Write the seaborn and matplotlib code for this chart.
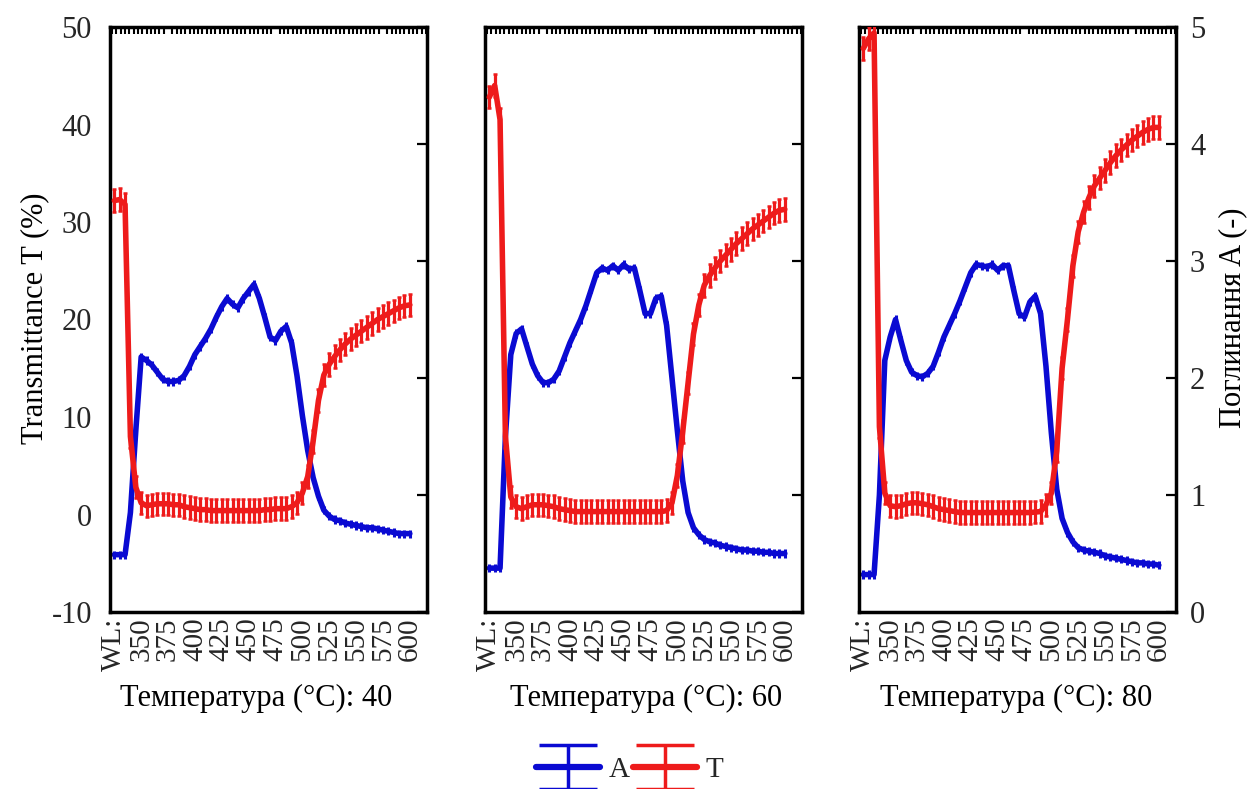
import numpy as np
import matplotlib
matplotlib.use("Agg")
import matplotlib.pyplot as plt
from matplotlib.ticker import FixedLocator
from matplotlib.legend_handler import HandlerErrorbar
import seaborn as sns

# ---------------- data ----------------
wavelength = [325, 330, 335, 340, 345, 350, 355, 360, 365, 370, 375, 380, 385, 390, 395,
              400, 405, 410, 415, 420, 425, 430, 435, 440, 445, 450, 455, 460, 465, 470,
              475, 480, 485, 490, 495, 500, 505, 510, 515, 520, 525, 530, 535, 540, 545,
              550, 555, 560, 565, 570, 575, 580, 585, 590, 595, 600]
tick_positions = [325, 350, 375, 400, 425, 450, 475, 500, 525, 550, 575, 600]
tick_labels = ["WL:", "350", "375", "400", "425", "450", "475", "500", "525", "550", "575", "600"]
temperatures = [40, 60, 80]

absorb_40 = [0.49, 0.49, 0.49, 0.85, 1.55,
             2.18, 2.15, 2.11, 2.05, 1.99, 1.97, 1.97, 1.98, 2.02, 2.10,
             2.20, 2.27, 2.34, 2.42, 2.52, 2.61, 2.68, 2.63, 2.60, 2.68,
             2.74, 2.80, 2.68, 2.52, 2.35, 2.32, 2.40, 2.44, 2.30, 2.02,
             1.68, 1.38, 1.15, 0.99, 0.87, 0.82, 0.79, 0.78, 0.76, 0.75,
             0.74, 0.73, 0.72, 0.72, 0.71, 0.70, 0.69, 0.68, 0.67, 0.67, 0.67]
trans_40 = [32.2, 32.3, 31.8, 8.0, 2.8,
            1.2, 0.9, 1.0, 1.1, 1.1, 1.1, 1.0, 1.0, 0.8, 0.7,
            0.6, 0.5, 0.5, 0.4, 0.4, 0.4, 0.4, 0.4, 0.4, 0.4,
            0.4, 0.4, 0.4, 0.5, 0.5, 0.6, 0.6, 0.6, 0.8, 1.2,
            2.2, 3.9, 7.5, 11.7, 14.3, 15.4, 16.2, 16.9, 17.5, 18.0,
            18.4, 18.8, 19.2, 19.6, 20.0, 20.3, 20.6, 20.9, 21.2, 21.4, 21.5]

absorb_60 = [0.375, 0.375, 0.375, 1.5, 2.2,
             2.38, 2.42, 2.27, 2.12, 2.02, 1.96, 1.96, 1.99, 2.06, 2.18,
             2.30, 2.40, 2.50, 2.62, 2.76, 2.90, 2.94, 2.92, 2.96, 2.92,
             2.97, 2.93, 2.94, 2.75, 2.55, 2.55, 2.68, 2.70, 2.45, 2.00,
             1.55, 1.12, 0.85, 0.72, 0.66, 0.62, 0.60, 0.59, 0.57, 0.56,
             0.55, 0.54, 0.53, 0.53, 0.52, 0.52, 0.51, 0.51, 0.50, 0.50, 0.50]
trans_60 = [42.8, 44.0, 40.5, 8.0, 1.8,
            0.8, 0.6, 0.8, 1.0, 1.0, 1.0, 0.9, 0.8, 0.6, 0.5,
            0.4, 0.3, 0.3, 0.3, 0.3, 0.3, 0.3, 0.3, 0.3, 0.3,
            0.3, 0.3, 0.3, 0.3, 0.3, 0.3, 0.3, 0.3, 0.4, 1.2,
            4.0, 8.5, 13.5, 18.5, 21.5, 23.5, 24.5, 25.3, 26.0, 26.6,
            27.2, 27.8, 28.3, 28.8, 29.3, 29.7, 30.1, 30.5, 30.9, 31.2, 31.3]

absorb_80 = [0.32, 0.32, 0.32, 1.0, 2.15,
             2.35, 2.50, 2.32, 2.15, 2.05, 2.02, 2.01, 2.04, 2.10, 2.22,
             2.35, 2.45, 2.55, 2.66, 2.78, 2.90, 2.97, 2.96, 2.95, 2.97,
             2.92, 2.96, 2.96, 2.75, 2.55, 2.52, 2.65, 2.70, 2.55, 2.10,
             1.53, 1.05, 0.80, 0.68, 0.60, 0.55, 0.53, 0.52, 0.51, 0.50,
             0.48, 0.47, 0.46, 0.45, 0.44, 0.43, 0.42, 0.42, 0.41, 0.41, 0.40]
trans_80 = [47.8, 48.8, 49.4, 9.0, 2.2,
            0.9, 0.8, 0.9, 1.1, 1.2, 1.2, 1.1, 1.0, 0.8, 0.6,
            0.5, 0.4, 0.3, 0.2, 0.2, 0.2, 0.2, 0.2, 0.2, 0.2,
            0.2, 0.2, 0.2, 0.2, 0.2, 0.2, 0.2, 0.25, 0.3, 1.0,
            2.2, 6.5, 15.0, 20.0, 25.5, 29.0, 31.0, 32.5, 33.7, 34.5,
            35.3, 36.1, 36.8, 37.4, 37.9, 38.4, 38.8, 39.2, 39.5, 39.7, 39.7]

absorbance = [absorb_40, absorb_60, absorb_80]
transmittance = [trans_40, trans_60, trans_80]
T_ERR = 1.15
A_ERR = 0.035

# ---------------- style ----------------
sns.set_theme(style="white")
plt.rcParams['font.family'] = ['Liberation Serif', 'DejaVu Serif']
plt.rcParams['axes.unicode_minus'] = False

BLUE = '#0a0ad2'
RED = '#ee1b1b'
W, H = 1259, 789
lefts = [110, 485, 859]
title_centers = [256, 646, 1016]
PW = 317
TOP, BOT = 27, 612
FS_XTICK = 21
FS_YTICK = 22

fig = plt.figure(figsize=(W / 100, H / 100), dpi=100)
wl = np.array(wavelength)

for i, (temp, A, T) in enumerate(zip(temperatures, absorbance, transmittance)):
    ax = fig.add_axes([lefts[i] / W, 1 - BOT / H, PW / W, (BOT - TOP) / H])
    axT = ax.twinx()

    # absorbance on primary axis (right scale)
    sns.lineplot(x=wl, y=np.array(A), ax=ax, color=BLUE, linewidth=4, legend=False)
    ax.errorbar(wl, A, yerr=A_ERR, fmt='none', ecolor=BLUE, elinewidth=2.2, capsize=0)
    # transmittance on twin axis (left scale), drawn on top
    sns.lineplot(x=wl, y=np.array(T), ax=axT, color=RED, linewidth=4, legend=False)
    axT.errorbar(wl, T, yerr=T_ERR, fmt='none', ecolor=RED, elinewidth=2.3, capsize=1.5, capthick=1.8)

    ax.set_xlim(321, 616)
    ax.set_ylim(0, 5)
    axT.set_ylim(-10, 50)

    ax.yaxis.tick_right()
    axT.yaxis.tick_left()
    ax.set_yticks([0, 1, 2, 3, 4, 5])
    axT.set_yticks([-10, 0, 10, 20, 30, 40, 50])
    ax.tick_params(axis='y', which='major', direction='in', length=7, width=1.6,
                   color='black', labelsize=FS_YTICK, pad=10, left=False, right=True,
                   labelleft=False, labelright=(i == 2))
    axT.tick_params(axis='y', which='major', length=0, labelsize=FS_YTICK, pad=13,
                    left=True, right=False, labelleft=(i == 0), labelright=False)

    ax.set_xticks(tick_positions)
    ax.set_xticklabels(tick_labels, rotation=90)
    ax.xaxis.set_minor_locator(FixedLocator(np.arange(323, 616, 4)))
    ax.tick_params(axis='x', which='major', length=0, labelsize=FS_XTICK, pad=4,
                   bottom=True, top=False)
    ax.tick_params(axis='x', which='minor', direction='in', length=5, width=1.5,
                   color='black', bottom=False, top=True)

    ax.set_xlabel('')
    ax.set_ylabel('')
    axT.set_ylabel('')
    for s in ax.spines.values():
        s.set_visible(True)
        s.set_linewidth(2.5)
        s.set_color('black')
    for s in axT.spines.values():
        s.set_visible(False)

    fig.text(title_centers[i] / W, 1 - 698 / H, f"Температура (°C): {temp}", ha='center',
             va='center', fontsize=22, color='black')

    if i == 2:
        hA = ax.errorbar([np.nan], [np.nan], yerr=[1], fmt='-', color=BLUE, lw=4.5,
                         elinewidth=2.5, capsize=21, capthick=2.5)
        hT = ax.errorbar([np.nan], [np.nan], yerr=[1], fmt='-', color=RED, lw=4.5,
                         elinewidth=2.5, capsize=21, capthick=2.5)
        ax.set_ylim(0, 5)
        ax.set_xlim(321, 616)

fig.text(35 / W, 1 - 318 / H, "Transmittance T (%)", rotation=90, ha='center', va='center',
         fontsize=22, color='black')
fig.text(1233 / W, 1 - 318 / H, "Поглинання A (-)", rotation=90, ha='center', va='center',
         fontsize=22, color='black')

fig.legend([hA, hT], ['A', 'T'], loc='center', bbox_to_anchor=(630 / W, 1 - 770 / H),
           ncol=2, frameon=False, fontsize=21, handlelength=2.2, handletextpad=0.3,
           columnspacing=0.1,
           handler_map={type(hA): HandlerErrorbar(yerr_size=0.75)})

fig.savefig("out.png", dpi=100, facecolor='white')
